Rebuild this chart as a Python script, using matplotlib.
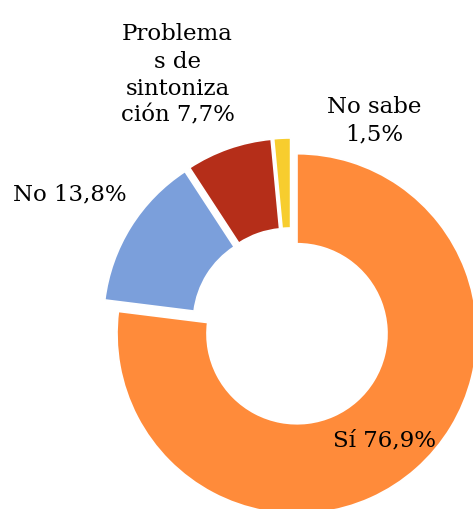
import matplotlib
matplotlib.use("Agg")
from matplotlib import pyplot as plt

# data
categories = ["Sí", "No", "Problemas de sintonización", "No sabe"]
values = [76.9, 13.8, 7.7, 1.5]
labels = ["Sí 76,9%", "No 13,8%", "Problema\ns de\nsintoniza\nción 7,7%", "No sabe\n1,5%"]
colors = ["#FF8B3A", "#7B9FDB", "#B52E19", "#F7CD2E"]

if __name__ == "__main__":
    fig = plt.figure(figsize=(4.73, 5.10), dpi=100)
    ax = fig.add_axes([0, 0, 1, 1])

    ax.pie(values, colors=colors, startangle=90, counterclock=False,
           explode=[0.05] * len(values), radius=1.0,
           wedgeprops=dict(width=0.5, edgecolor="white", linewidth=1.2))

    ax.set_xlim(-1.617, 1.011)
    ax.set_ylim(-1.011, 1.822)
    ax.set_aspect("auto")
    ax.axis("off")

    font = dict(family="DejaVu Serif", fontsize=16.5, color="black",
                ha="center", va="center", linespacing=1.3)
    ax.text(0.52, -0.625, labels[0], **font)
    ax.text(-1.23, 0.74, labels[1], **font)
    ax.text(-0.63, 1.405, labels[2], **font)
    ax.text(0.46, 1.15, labels[3], **font)

    fig.savefig("out.png", dpi=100)
